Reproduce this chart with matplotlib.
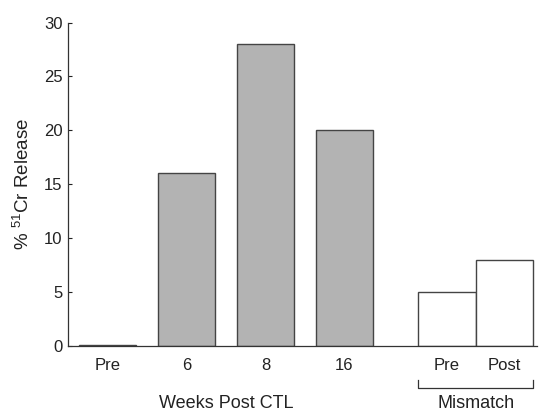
import matplotlib

matplotlib.use("Agg")
import matplotlib.pyplot as plt  # noqa: E402
import matplotlib.transforms as mtransforms  # noqa: E402

plt.rcParams["font.family"] = ["Liberation Sans", "DejaVu Sans"]
plt.rcParams["mathtext.fontset"] = "custom"
plt.rcParams["mathtext.rm"] = "Liberation Sans"

# data
weeks_labels = ["Pre", "6", "8", "16"]
weeks_values = [0.1, 16, 28, 20]
mismatch_labels = ["Pre", "Post"]
mismatch_values = [5, 8]

weeks_pos = [0, 1, 2, 3]
mismatch_pos = [4.3, 5.03]
WIDTH = 0.73
EDGE = "#444444"
TEXT = "#222222"

fig = plt.figure(figsize=(5.41, 4.12), dpi=100)
ax = fig.add_axes([0.1257, 0.161, 0.867, 0.784])

ax.bar(weeks_pos, weeks_values, width=WIDTH, color="#b3b3b3", edgecolor=EDGE, linewidth=1.0)
ax.bar(mismatch_pos, mismatch_values, width=WIDTH, color="white", edgecolor=EDGE, linewidth=1.0)

ax.set_xlim(-0.5, 5.44)
ax.set_ylim(0, 30)
ax.set_yticks([0, 5, 10, 15, 20, 25, 30])
ax.set_xticks(weeks_pos + mismatch_pos)
ax.set_xticklabels(weeks_labels + mismatch_labels)

for side in ("top", "right"):
    ax.spines[side].set_visible(False)
for side in ("left", "bottom"):
    ax.spines[side].set_color("#333333")
    ax.spines[side].set_linewidth(0.9)

ax.tick_params(axis="y", direction="in", length=3, width=0.8, pad=4, labelsize=12, colors=TEXT)
ax.tick_params(axis="x", length=0, pad=9, labelsize=12, colors=TEXT)

ax.set_ylabel(r"% $\mathregular{^{51}}$Cr Release", fontsize=13.5, color=TEXT)
ax.yaxis.set_label_coords(-0.075, 0.5)

# group labels and bracket below the axis
trans = mtransforms.blended_transform_factory(ax.transData, ax.transAxes)
left = mismatch_pos[0] - WIDTH / 2
right = mismatch_pos[1] + WIDTH / 2
ax.plot([left, left, right, right], [-0.105, -0.13, -0.13, -0.105], transform=trans,
        color="#333333", linewidth=0.9, clip_on=False)
ax.text(sum(weeks_pos) / len(weeks_pos), -0.178, "Weeks Post CTL", transform=trans,
        ha="center", va="center", fontsize=13, color=TEXT)
ax.text((left + right) / 2, -0.178, "Mismatch", transform=trans,
        ha="center", va="center", fontsize=13, color=TEXT)

fig.savefig("out.png", dpi=100)
